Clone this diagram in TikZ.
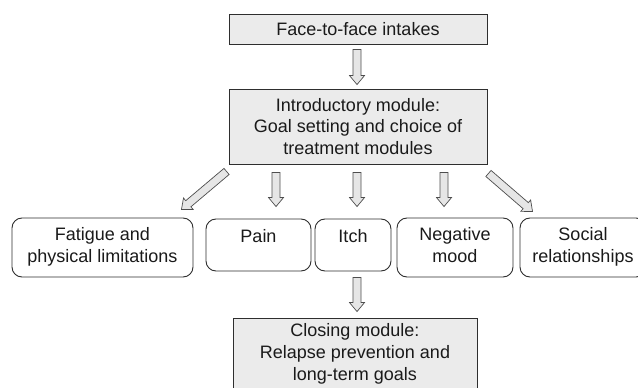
\documentclass[tikz,border=0pt]{standalone}
\usepackage{fontspec}
\setmainfont{Liberation Sans}
\usetikzlibrary{calc}
\definecolor{boxfill}{HTML}{EBEBEB}
\definecolor{boxline}{HTML}{2E2E2E}
\definecolor{arrfill}{HTML}{E6E6E6}
\definecolor{arrline}{HTML}{4D4D4D}
\definecolor{txt}{HTML}{1A1A1A}
\tikzset{
  base/.style={draw=boxline, line width=0.9pt, text=txt, align=center, inner sep=0pt,
    font=\fontsize{18}{21.7}\selectfont},
  gbox/.style={base, fill=boxfill},
  rbox/.style={base, fill=white, rounded corners=10pt},
  onebox/.style={rbox, text height=10pt, text depth=15pt},
  barrow/.style={draw=arrline, fill=arrfill, line width=0.7pt, line join=miter},
}
\newcommand\blockarrow[2]{%
  \coordinate (ba-b) at ($(#2)!9pt!(#1)$);
  \draw[barrow] ($(#1)!4pt!90:(#2)$) -- ($(ba-b)!4pt!90:(#2)$) -- ($(ba-b)!7.5pt!90:(#2)$)
    -- (#2) -- ($(ba-b)!7.5pt!-90:(#2)$) -- ($(ba-b)!4pt!-90:(#2)$)
    -- ($(#1)!4pt!-90:(#2)$) -- cycle;
}
\begin{document}
\begin{tikzpicture}[x=1pt,y=-1pt]
\useasboundingbox (0,0) rectangle (638,388);
\node[gbox, minimum width=258pt, minimum height=30pt] (top) at (358,29) {Face-to-face intakes};
\node[gbox, minimum width=258pt, minimum height=75pt] (intro) at (358,126.5)
  {Introductory module:\\Goal setting and choice of\\treatment modules};
\node[rbox, minimum width=181pt, minimum height=59pt] (fat) at (102.5,247.5) {\strut Fatigue and\\physical limitations\strut};
\node[onebox, minimum width=105pt, minimum height=52pt] (pain) at (258.5,245) {Pain};
\node[onebox, minimum width=76pt, minimum height=52pt] (itch) at (353,245) {Itch};
\node[rbox, minimum width=116pt, minimum height=59pt] (neg) at (455,247.5) {\strut Negative\\mood\strut};
\node[rbox, minimum width=126pt, minimum height=59pt] (soc) at (583,247.5) {\strut Social\\relationships\strut};
\node[gbox, minimum width=244pt, minimum height=72pt] (close) at (355,354)
  {Closing module:\\Relapse prevention and\\long-term goals};

\coordinate (a1s) at ($(top.south)+(-1,5)$);
\coordinate (a1e) at ($(intro.north)+(-1,-4)$);
\coordinate (pS) at ($(intro.south)+(-82,8)$);
\coordinate (pE) at ($(pain.north)+(17.5,-12)$);
\coordinate (iS) at ($(intro.south)+(-1,8)$);
\coordinate (iE) at ($(itch.north)+(4,-12)$);
\coordinate (nS) at ($(intro.south)+(86,8)$);
\coordinate (nE) at ($(neg.north)+(-11,-11)$);
\coordinate (fS) at ($(intro.south west)+(-2,7)$);
\coordinate (fE) at ($(fat.north east)+(-12,-8)$);
\coordinate (sS) at ($(intro.south east)+(1,9)$);
\coordinate (sE) at ($(soc.north west)+(13,-6)$);
\coordinate (cS) at ($(itch.south)+(4,6)$);
\coordinate (cE) at ($(close.north)+(2,-6)$);

\blockarrow{a1s}{a1e}
\blockarrow{pS}{pE}
\blockarrow{iS}{iE}
\blockarrow{nS}{nE}
\blockarrow{fS}{fE}
\blockarrow{sS}{sE}
\blockarrow{cS}{cE}
\end{tikzpicture}
\end{document}
